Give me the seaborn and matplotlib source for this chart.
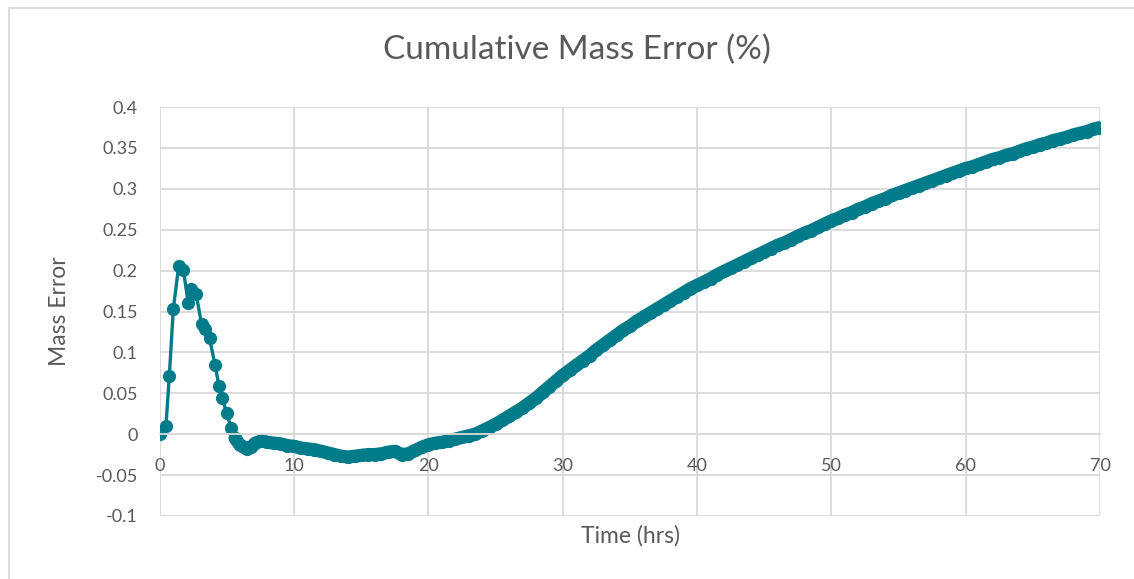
import seaborn as sns
import matplotlib.pyplot as plt
import pandas as pd
from matplotlib.lines import Line2D

# values
time_hrs = [0.0, 0.45, 0.7, 1.0, 1.4, 1.75, 2.1, 2.35, 2.7, 3.1, 3.35, 3.7, 4.1, 4.4, 4.6,
            5.0, 5.3, 5.6, 5.95, 6.45, 6.8, 7.1, 7.6, 8.0,
            8.5, 9.0, 9.5, 10.0, 10.5, 11.0, 11.5, 12.0, 12.5, 13.0, 13.5, 14.0, 14.5, 15.0,
            15.5, 16.0, 16.5, 17.0, 17.5, 18.0, 18.5, 19.0, 19.5, 20.0, 20.5, 21.0, 21.5,
            22.0, 22.5, 23.0, 23.5, 24.0, 24.5, 25.0, 25.5, 26.0, 26.5, 27.0, 27.5,
            28.0, 28.5, 29.0, 29.5, 30.0, 30.5, 31.0, 31.5, 32.0, 32.5, 33.0, 33.5, 34.0,
            34.5, 35.0, 35.5, 36.0, 36.5, 37.0, 37.5, 38.0, 38.5, 39.0, 39.5, 40.0, 40.5,
            41.0, 41.5, 42.0, 42.5, 43.0, 43.5, 44.0, 44.5, 45.0, 45.5, 46.0, 46.5, 47.0,
            47.5, 48.0, 48.5, 49.0, 49.5, 50.0, 50.5, 51.0, 51.5, 52.0, 52.5, 53.0, 53.5,
            54.0, 54.5, 55.0, 55.5, 56.0, 56.5, 57.0, 57.5, 58.0, 58.5, 59.0, 59.5, 60.0,
            60.5, 61.0, 61.5, 62.0, 62.5, 63.0, 63.5, 64.0, 64.5, 65.0, 65.5, 66.0, 66.5,
            67.0, 67.5, 68.0, 68.5, 69.0, 69.5, 70.0]
mass_error = [0.0, 0.01, 0.071, 0.153, 0.206, 0.201, 0.161, 0.177, 0.171, 0.135, 0.128, 0.117,
              0.085, 0.059, 0.044, 0.026, 0.007, -0.005, -0.013, -0.018, -0.016, -0.011, -0.008,
              -0.01,
              -0.011, -0.012, -0.014, -0.015, -0.017, -0.018, -0.019, -0.021, -0.023, -0.025,
              -0.027, -0.028, -0.027, -0.026, -0.025, -0.025, -0.024, -0.022, -0.021, -0.025,
              -0.024, -0.02, -0.016, -0.013, -0.011, -0.01, -0.008, -0.006, -0.004, -0.002,
              0.0, 0.004, 0.008, 0.012, 0.017, 0.022, 0.027, 0.032, 0.038,
              0.044, 0.051, 0.058, 0.065, 0.072, 0.078, 0.084, 0.09, 0.096, 0.103, 0.109, 0.115,
              0.121, 0.127, 0.132, 0.138, 0.143, 0.148, 0.153, 0.158, 0.163, 0.168, 0.173,
              0.178, 0.182, 0.186, 0.19, 0.195, 0.199, 0.203, 0.207, 0.211, 0.215, 0.219,
              0.223, 0.227, 0.231, 0.234, 0.238, 0.242, 0.246, 0.249, 0.253, 0.257, 0.261,
              0.264, 0.268, 0.271, 0.275, 0.278, 0.282, 0.285, 0.288, 0.292, 0.295, 0.298,
              0.301, 0.304, 0.307, 0.31, 0.313, 0.316, 0.319, 0.322, 0.325, 0.327, 0.33,
              0.333, 0.336, 0.338, 0.341, 0.343, 0.346, 0.349, 0.351, 0.354, 0.356, 0.359,
              0.361, 0.363, 0.366, 0.368, 0.37, 0.373, 0.375]
x_ticks = [0, 10, 20, 30, 40, 50, 60, 70]
y_ticks = [-0.1, -0.05, 0, 0.05, 0.1, 0.15, 0.2, 0.25, 0.3, 0.35, 0.4]
y_labels = ['-0.1', '-0.05', '0', '0.05', '0.1', '0.15', '0.2', '0.25', '0.3', '0.35', '0.4']

data = pd.DataFrame({'time': time_hrs, 'err': mass_error})
dense = data[data['time'] >= 5.5]  # where the markers run together into a band

sns.set_style('white')
plt.rcParams['font.family'] = ['Lato', 'DejaVu Sans']
text_col = '#595959'
grid_col = '#D9D9D9'
teal = '#007B8A'

fig = plt.figure(figsize=(11.34, 5.79), dpi=100)
ax = fig.add_axes([0.141, 0.109, 0.829, 0.706])

sns.lineplot(x='time', y='err', data=dense, ax=ax, color=teal, linewidth=9.5,
             estimator=None, solid_capstyle='round', solid_joinstyle='round')
sns.lineplot(x='time', y='err', data=data, ax=ax, color=teal, marker='o',
             markersize=9.5, markeredgewidth=0, linewidth=2.4, estimator=None)

ax.set_xlim(0, 70)
ax.set_ylim(-0.1, 0.4)
ax.set_xticks(x_ticks)
ax.set_yticks(y_ticks)
ax.set_yticklabels(y_labels)
ax.grid(True, color=grid_col, linewidth=1.3)
ax.set_axisbelow(True)

for s in ['top', 'right', 'left']:
    ax.spines[s].set_visible(False)
# x axis crosses at zero, like the Excel chart
ax.spines['bottom'].set_position(('data', 0))
ax.spines['bottom'].set_color(grid_col)
ax.spines['bottom'].set_linewidth(1.3)
ax.tick_params(axis='x', length=0, pad=17, labelsize=13, labelcolor=text_col)
ax.tick_params(axis='y', length=0, pad=16, labelsize=13, labelcolor=text_col)

ax.set_xlabel('')
ax.set_ylabel('')
fig.text(0.556, 1 - 536 / 579, 'Time (hrs)', ha='center', va='center', fontsize=16.5, color=text_col)
fig.text(60 / 1134, 0.463, 'Mass Error', ha='center', va='center', rotation=90,
         fontsize=16.5, color=text_col)
fig.text(0.509, 1 - 50 / 579, 'Cumulative Mass Error (%)', ha='center', va='center',
         fontsize=24, color=text_col)

# chart area frame (only left and top edges show)
fig.add_artist(Line2D([9 / 1134, 9 / 1134], [0, 1 - 8 / 579], transform=fig.transFigure,
                      color=grid_col, linewidth=1.3))
fig.add_artist(Line2D([9 / 1134, 1], [1 - 8 / 579, 1 - 8 / 579], transform=fig.transFigure,
                      color=grid_col, linewidth=1.3))

fig.savefig('out.png', dpi=100)
